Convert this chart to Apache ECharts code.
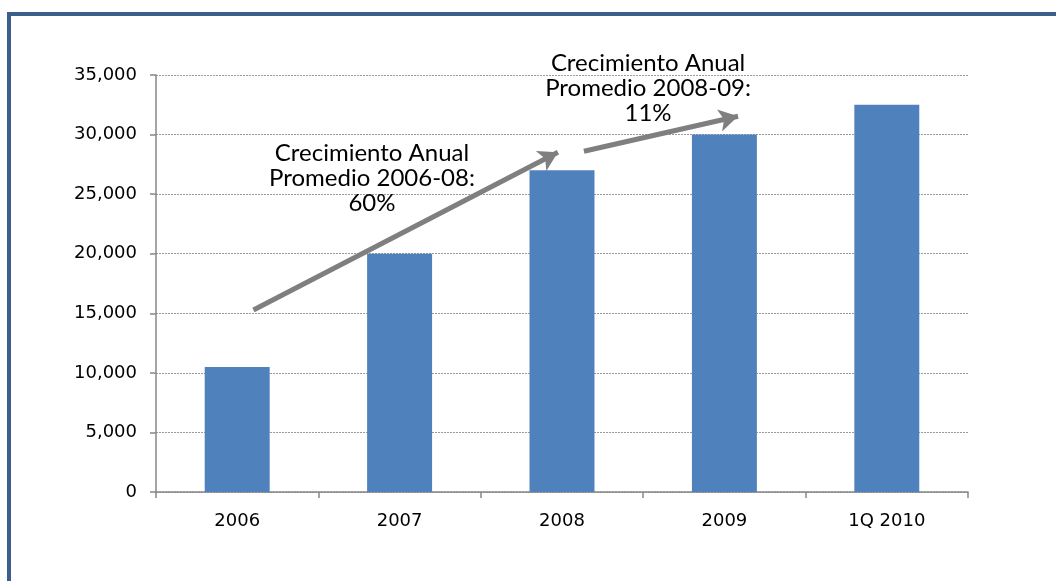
<!DOCTYPE html>
<html>
<head>
<meta charset="utf-8">
<script src="https://cdn.jsdelivr.net/npm/echarts@6/dist/echarts.min.js"></script>
<style>html,body{margin:0;padding:0;background:#fff;}#c{width:1056px;height:581px;}</style>
</head>
<body>
<div id="c"></div>
<script>
var categories = ['2006', '2007', '2008', '2009', '1Q 2010'];
var values = [10500, 20000, 27000, 30000, 32500];
var yTicks = { min: 0, max: 35000, interval: 5000 };
// annotation arrows in [categoryPosition (0..5), value]
var arrow1 = [[0.6, 15270], [2.475, 28520]];
var arrow2 = [[2.635, 28600], [3.584, 31540]];
var note1 = { pos: [1.33, 26340], text: 'Crecimiento Anual\nPromedio 2006-08:\n60%' };
var note2 = { pos: [3.03, 33890], text: 'Crecimiento Anual\nPromedio 2008-09:\n11%' };

var chart = echarts.init(document.getElementById('c'), null, { renderer: 'canvas' });
var axisGray = '#868686';
var tickFont = { fontFamily: 'DejaVu Sans', fontSize: 18, color: '#000' };
chart.setOption({
  animation: false,
  backgroundColor: '#fff',
  grid: { left: 156, right: 88, top: 75, bottom: 89 },
  graphic: [
    { type: 'rect', shape: { x: 7, y: 12, width: 1049, height: 4 }, style: { fill: '#3B5E8A' }, silent: true },
    { type: 'rect', shape: { x: 7, y: 12, width: 4, height: 569 }, style: { fill: '#3B5E8A' }, silent: true }
  ],
  xAxis: [
    {
      type: 'category', data: categories,
      axisLine: { lineStyle: { color: axisGray, width: 1.5 } },
      axisTick: { show: true, length: 6, lineStyle: { color: axisGray, width: 1.5 } },
      axisLabel: Object.assign({ margin: 20 }, tickFont)
    },
    { type: 'value', min: 0, max: 5, show: false }
  ],
  yAxis: {
    type: 'value', min: yTicks.min, max: yTicks.max, interval: yTicks.interval,
    axisLine: { show: true, lineStyle: { color: axisGray, width: 1.5 } },
    axisTick: { show: true, length: 6, lineStyle: { color: axisGray, width: 1.5 } },
    axisLabel: Object.assign({ margin: 19, formatter: function (v) { return v.toLocaleString('en-US'); } }, tickFont),
    splitLine: { show: true, lineStyle: { color: '#9a9a9a', type: [2, 1], width: 1 } }
  },
  series: [
    {
      type: 'bar', data: values, barWidth: '40%',
      itemStyle: { color: '#4F81BD' }, silent: true
    },
    {
      type: 'scatter', xAxisIndex: 1, data: [], silent: true,
      markLine: {
        silent: true, symbol: ['none', 'arrow'], symbolSize: [17, 19],
        label: { show: false },
        lineStyle: { color: '#7F7F7F', width: 5, type: 'solid' },
        emphasis: { disabled: true },
        data: [
          [{ coord: arrow1[0] }, { coord: arrow1[1] }],
          [{ coord: arrow2[0] }, { coord: arrow2[1] }]
        ]
      },
      markPoint: {
        silent: true, symbol: 'circle', symbolSize: 0,
        label: { show: true, position: 'inside', color: '#000', fontFamily: 'Lato', fontSize: 24, lineHeight: 25, align: 'center', formatter: function (p) { return p.name; } },
        data: [
          { name: note1.text, coord: note1.pos },
          { name: note2.text, coord: note2.pos }
        ]
      }
    }
  ]
});
</script>
</body>
</html>
